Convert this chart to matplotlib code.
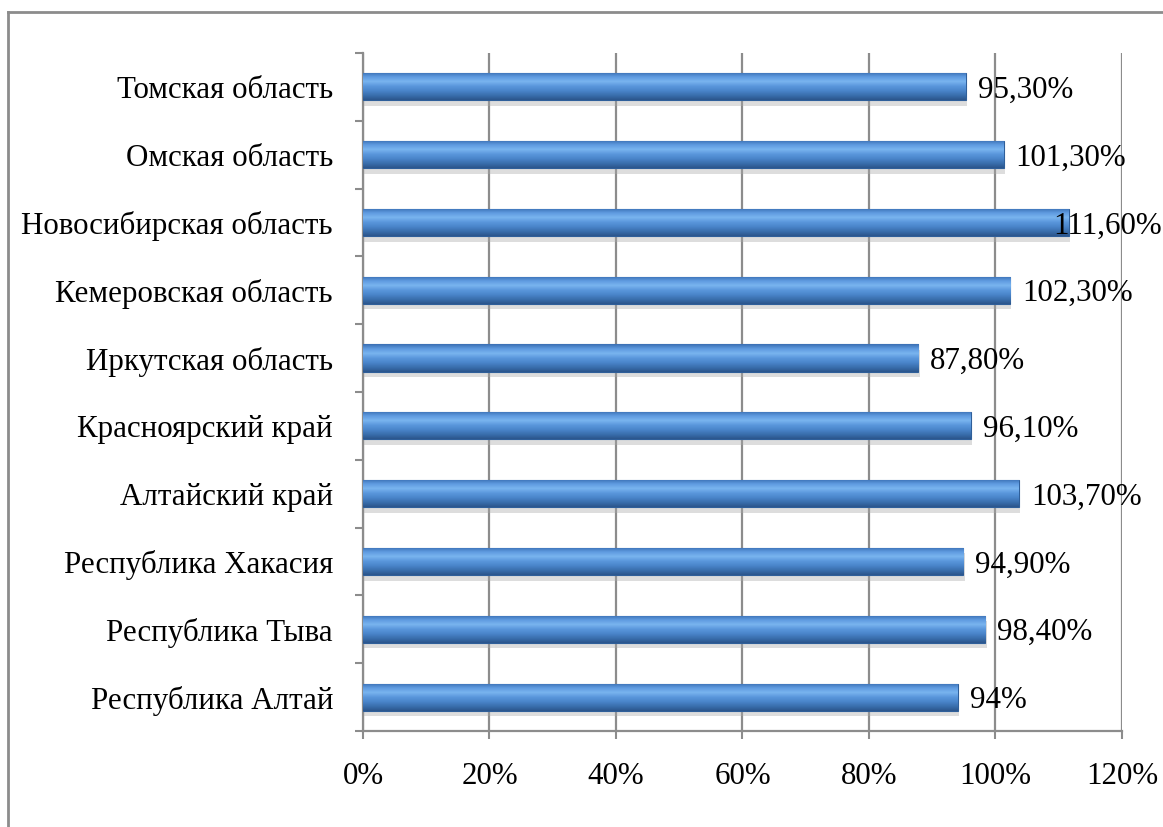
# Регионы Сибири: горизонтальные столбцы с процентами

import numpy as np
import matplotlib
matplotlib.use("Agg")
from matplotlib import pyplot as plt
from matplotlib import patheffects as pe
from matplotlib.colors import LinearSegmentedColormap


regions = [
    "Республика Алтай",
    "Республика Тыва",
    "Республика Хакасия",
    "Алтайский край",
    "Красноярский край",
    "Иркутская область",
    "Кемеровская область",
    "Новосибирская область",
    "Омская область",
    "Томская область",
]
values = [94.0, 98.4, 94.9, 103.7, 96.1, 87.8, 102.3, 111.6, 101.3, 95.3]
value_labels = ["94%", "98,40%", "94,90%", "103,70%", "96,10%",
                "87,80%", "102,30%", "111,60%", "101,30%", "95,30%"]
x_ticks = [0, 20, 40, 60, 80, 100, 120]

plt.rcParams["font.family"] = ["Liberation Serif", "DejaVu Serif"]
FS = 22.3

fig = plt.figure(figsize=(11.63, 8.27), dpi=100)
ax = fig.add_axes([0.3121, 0.1161, 0.9647 - 0.3121, 0.936 - 0.1161])

# рамка вокруг диаграммы (видны только левая и верхняя стороны)
fig.add_artist(plt.Line2D([8 / 1163, 8 / 1163], [0, 1 - 12 / 827],
                          transform=fig.transFigure, color="#8c8c8c", lw=2))
fig.add_artist(plt.Line2D([8 / 1163, 1], [1 - 12 / 827, 1 - 12 / 827],
                          transform=fig.transFigure, color="#8c8c8c", lw=2))

ypos = np.arange(len(regions))
h = 0.4
cmap = LinearSegmentedColormap.from_list(
    "bar", ["#2b568c", "#3a6fae", "#4a85ca", "#5a97dc", "#79b4ef", "#5f9be0", "#3b70b4"])
grad = np.linspace(0, 1, 64).reshape(-1, 1)

bars = ax.barh(ypos, values, height=h, color="#4a85ca", edgecolor="#2f5f9a",
               linewidth=0.8, zorder=3,
               path_effects=[pe.SimplePatchShadow(offset=(1, -4), shadow_rgbFace="#aaaaaa",
                                                  alpha=0.4), pe.Normal()])
for b, v, y in zip(bars, values, ypos):
    im = ax.imshow(grad, extent=[0, v, y - h / 2, y + h / 2], aspect="auto",
                   cmap=cmap, origin="lower", zorder=4)
    im.set_clip_path(b)

# подпись сдвигается влево, если не помещается
for v, y, t in zip(values, ypos, value_labels):
    ax.text(min(v + 1.9, 109.2), y - 0.05, t, va="center", ha="left", fontsize=FS,
            color="black", zorder=6)

ax.set_xlim(0, 120)
ax.set_ylim(-0.5, len(regions) - 0.5)
ax.set_xticks(x_ticks)
ax.set_xticklabels([f"{t}%" for t in x_ticks], fontsize=FS)
ax.set_yticks(ypos)
ax.set_yticklabels(regions, fontsize=FS)
ax.set_yticks(np.arange(-0.5, len(regions), 1.0), minor=True)
ax.tick_params(axis="y", which="major", length=0, pad=21.5)
ax.tick_params(axis="y", which="minor", length=6, width=1.5, color="#8c8c8c")
ax.tick_params(axis="x", length=6, width=1.5, color="#8c8c8c", pad=16)
ax.grid(axis="x", color="#8c8c8c", lw=1.6, zorder=0)
ax.set_axisbelow(True)
for s in ("top", "right"):
    ax.spines[s].set_visible(False)
for s in ("left", "bottom"):
    ax.spines[s].set_color("#8c8c8c")
    ax.spines[s].set_linewidth(1.6)

fig.savefig("out.png", dpi=100)
